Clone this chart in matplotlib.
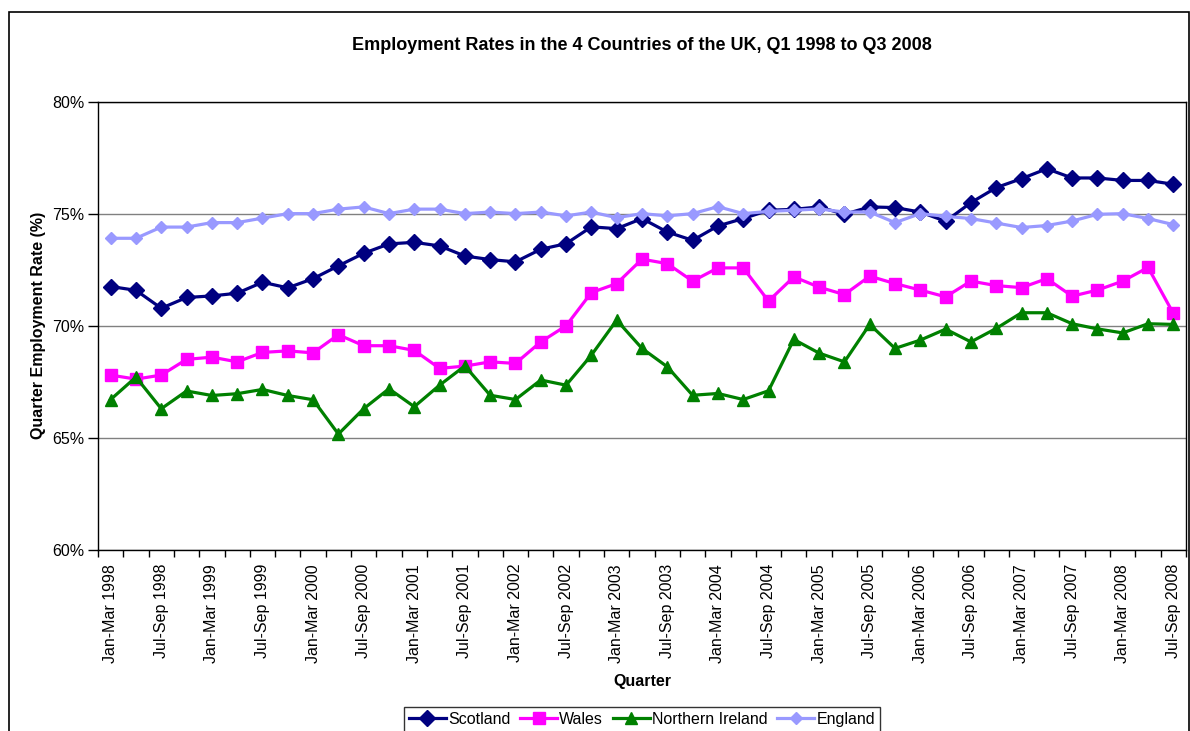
import matplotlib
matplotlib.use("Agg")
from matplotlib import pyplot as plt
from matplotlib.ticker import FuncFormatter, FixedLocator
from matplotlib.patches import Rectangle

plt.rcParams['font.family'] = ['Liberation Sans', 'DejaVu Sans']

years = list(range(1998, 2009))
quarter_names = ["Jan-Mar", "Apr-Jun", "Jul-Sep", "Oct-Dec"]
quarters = [q + " " + str(y) for y in years for q in quarter_names][:43]

scotland = [71.75, 71.58, 70.78, 71.26, 71.33, 71.45, 71.94, 71.69, 72.10, 72.67,
            73.23, 73.65, 73.72, 73.56, 73.11, 72.95, 72.85, 73.41, 73.66, 74.41,
            74.33, 74.78, 74.18, 73.81, 74.45, 74.78, 75.15, 75.19, 75.30, 74.97,
            75.30, 75.27, 75.07, 74.66, 75.49, 76.16, 76.56, 77.00, 76.59, 76.59,
            76.48, 76.48, 76.31]
wales = [67.80, 67.62, 67.80, 68.50, 68.60, 68.39, 68.81, 68.88, 68.79, 69.60,
         69.11, 69.11, 68.90, 68.10, 68.20, 68.39, 68.32, 69.28, 70.00, 71.48,
         71.88, 72.97, 72.77, 71.99, 72.58, 72.58, 71.10, 72.18, 71.72, 71.39,
         72.21, 71.88, 71.59, 71.29, 71.99, 71.79, 71.70, 72.10, 71.32, 71.59,
         71.99, 72.60, 70.55]
n_ireland = [66.71, 67.71, 66.30, 67.09, 66.89, 66.97, 67.16, 66.89, 66.70, 65.17,
             66.30, 67.19, 66.39, 67.35, 68.21, 66.90, 66.71, 67.58, 67.35, 68.69,
             70.25, 68.99, 68.17, 66.90, 66.98, 66.71, 67.10, 69.39, 68.78, 68.39,
             70.06, 68.99, 69.36, 69.85, 69.28, 69.88, 70.58, 70.58, 70.09, 69.86,
             69.68, 70.09, 70.06]
england = [73.90, 73.90, 74.40, 74.40, 74.60, 74.60, 74.80, 75.00, 75.00, 75.20,
           75.30, 75.00, 75.20, 75.20, 75.00, 75.07, 75.00, 75.07, 74.90, 75.07,
           74.82, 75.00, 74.90, 75.00, 75.31, 75.00, 75.10, 75.15, 75.21, 75.07,
           75.07, 74.60, 75.00, 74.88, 74.78, 74.58, 74.38, 74.47, 74.67, 74.97,
           75.00, 74.78, 74.51]

fig = plt.figure(figsize=(11.9, 7.31), dpi=100)
ax = fig.add_axes([98 / 1190, 1 - 550 / 731, 1088 / 1190, 448.5 / 731])

# outer chart border
fig.patches.append(Rectangle((9 / 1190, -0.1), 1180 / 1190, 1.1 - 12 / 731,
                             transform=fig.transFigure, fill=False,
                             edgecolor='black', linewidth=1.2))

x = list(range(len(quarters)))
ax.plot(x, scotland, color='#000080', lw=2.3, marker='D', ms=8, label='Scotland')
ax.plot(x, wales, color='#FF00FF', lw=2.3, marker='s', ms=8, label='Wales')
ax.plot(x, n_ireland, color='#008000', lw=2.3, marker='^', ms=8, label='Northern Ireland')
ax.plot(x, england, color='#9999FF', lw=2.3, marker='D', ms=6, label='England')

ax.set_xlim(-0.5, len(quarters) - 0.5)
ax.set_ylim(60, 80)
ax.set_yticks([60, 65, 70, 75, 80])
ax.yaxis.set_major_formatter(FuncFormatter(lambda v, p: "%d%%" % v))
ax.grid(axis='y', color='#808080', lw=1)
ax.set_axisbelow(True)

# category boundaries as ticks, labels on every other category
ax.xaxis.set_major_locator(FixedLocator([i - 0.5 for i in range(len(quarters) + 1)]))
ax.xaxis.set_major_formatter(FuncFormatter(lambda v, p: ""))
ax.xaxis.set_minor_locator(FixedLocator(x[::2]))
ax.set_xticklabels(quarters[::2], minor=True, rotation=90, fontsize=11.5)
ax.tick_params(axis='x', which='major', length=5, direction='out', width=1)
ax.tick_params(axis='x', which='minor', length=0, pad=10)
ax.tick_params(axis='y', length=7, width=1, labelsize=11.5, pad=3)

for s in ax.spines.values():
    s.set_color('black')
    s.set_linewidth(1)

ax.set_title("Employment Rates in the 4 Countries of the UK, Q1 1998 to Q3 2008",
             fontsize=13, fontweight='bold', pad=37)
ax.set_xlabel("Quarter", fontsize=11.5, fontweight='bold', labelpad=8)
ax.set_ylabel("Quarter Employment Rate (%)", fontsize=11.5, fontweight='bold', labelpad=4)

leg = fig.legend(loc='upper center', bbox_to_anchor=(642 / 1190, 1 - 707 / 731),
                 ncol=4, fontsize=11.5, frameon=True, fancybox=False,
                 edgecolor='black', handlelength=2.3, handletextpad=0.15,
                 columnspacing=0.6, borderpad=0.3, borderaxespad=0)
leg.get_frame().set_linewidth(1)

fig.savefig("out.png", dpi=100)
